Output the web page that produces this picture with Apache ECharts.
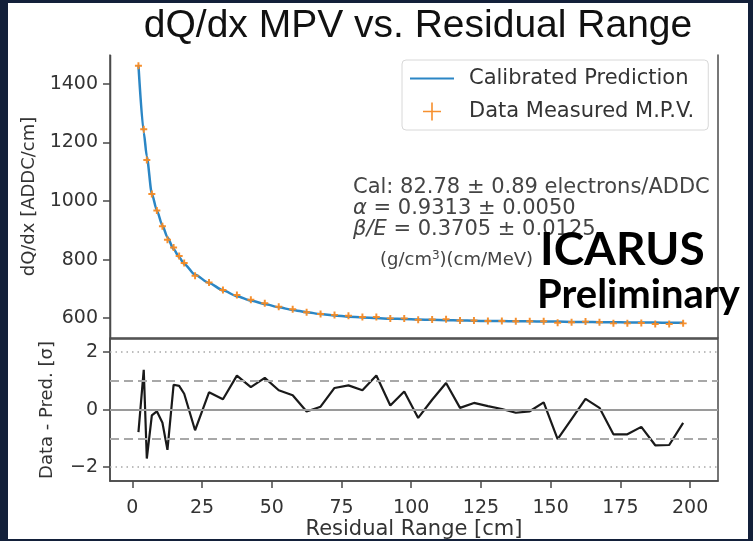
<!DOCTYPE html>
<html>
<head>
<meta charset="utf-8">
<script src="https://cdn.jsdelivr.net/npm/echarts@6/dist/echarts.min.js"></script>
<style>
  html, body { margin: 0; padding: 0; background: #ffffff; }
  #chart { width: 753px; height: 541px; }
</style>
</head>
<body>
<div id="chart"></div>
<script>
// Residual range bin centres [cm]
const residualRange = [2.2, 4.1, 5.2, 7, 8.8, 10.8, 12.6, 14.8, 16.8, 18.6,
  22.5, 27.5, 32.5, 37.5, 42.5, 47.5, 52.5, 57.5, 62.5, 67.5, 72.5, 77.5, 82.5, 87.5,
  92.5, 97.5, 102.5, 107.5, 112.5, 117.5, 122.5, 127.5, 132.5, 137.5, 142.5, 147.5,
  152.5, 157.5, 162.5, 167.5, 172.5, 177.5, 182.5, 187.5, 192.5, 197.5];

// Calibrated prediction of the dQ/dx MPV [ADDC/cm]
const prediction = [1465, 1235, 1152, 1025, 968, 916, 876, 836, 808, 785,
  748, 720, 695, 675, 660, 648, 637, 628, 620, 614, 609, 605, 602, 600,
  598, 597, 595, 594, 593, 592, 591, 590, 590, 589, 589, 588,
  588, 587, 587, 586, 586, 585, 585, 585, 584, 584];

// Measured MPV in each bin [ADDC/cm]
const measured = [1462, 1245, 1140, 1024, 968, 914, 868, 841, 812, 788,
  745, 722, 696, 679, 663, 651, 639, 630, 620, 614, 611, 608, 604, 604,
  599, 599, 594, 595, 596, 592, 592, 590, 590, 589, 589, 589,
  584, 586, 588, 586, 582, 582, 583, 580, 580, 582];

// (Data - Prediction) / sigma
const pull = [-0.78, 1.38, -1.7, -0.2, -0.06, -0.46, -1.4, 0.86, 0.82, 0.55,
  -0.72, 0.6, 0.36, 1.18, 0.78, 1.1, 0.67, 0.5, -0.07, 0.1, 0.75, 0.84, 0.67, 1.18,
  0.14, 0.63, -0.29, 0.34, 0.92, 0.06, 0.23, 0.12, 0.02, -0.11, -0.06, 0.25,
  -1.03, -0.33, 0.37, 0.06, -0.86, -0.86, -0.6, -1.24, -1.23, -0.46];

// Tick labels
const xTicks = [0, 25, 50, 75, 100, 125, 150, 175, 200];
const yTicksTop = [600, 800, 1000, 1200, 1400];
const yTicksBottom = [-2, 0, 2];

// Axis ranges
const xRange = [-8, 210];
const yRangeTop = [532, 1499];
const yRangeBottom = [-2.48, 2.45];

const zip = (a, b) => a.map((v, i) => [v, b[i]]);
const plain = v => (v < 0 ? '\u2212' + Math.abs(v) : String(v));

const axisColor = '#4a4a4a';
const textColor = '#333333';
const tickFont = 'DejaVu Sans';

const legendPlus = 'path://M4.55,0 L5.45,0 L5.45,4.55 L10,4.55 L10,5.45 L5.45,5.45 L5.45,10 L4.55,10 L4.55,5.45 L0,5.45 L0,4.55 L4.55,4.55 Z';
const markerPlus = 'path://M3.6,0 L6.4,0 L6.4,3.6 L10,3.6 L10,6.4 L6.4,6.4 L6.4,10 L3.6,10 L3.6,6.4 L0,6.4 L0,3.6 L3.6,3.6 Z';
const lineIcon = 'path://M0,0 L40,0 L40,2 L0,2 Z';

const chart = echarts.init(document.getElementById('chart'), null, { renderer: 'canvas' });

const spine = () => ({ show: true, onZero: false, lineStyle: { color: axisColor, width: 1.5 } });
const tickStyle = () => ({ color: axisColor, width: 1.5 });

const option = {
  backgroundColor: '#ffffff',
  animation: false,
  title: {
    text: 'dQ/dx MPV vs. Residual Range',
    left: 413, top: 2, textAlign: 'center',
    textStyle: { fontFamily: 'Liberation Sans', fontWeight: 'normal', fontSize: 39, color: '#111' }
  },
  legend: {
    orient: 'vertical',
    left: 402, top: 60,
    padding: [8, 14, 8, 8],
    itemGap: 12,
    itemWidth: 44, itemHeight: 18,
    borderColor: '#d8d8d8', borderWidth: 1, borderRadius: 4,
    backgroundColor: '#ffffff',
    textStyle: { fontFamily: tickFont, fontSize: 21, color: textColor, padding: [0, 0, 0, 10] },
    data: [
      { name: 'Calibrated Prediction', icon: lineIcon },
      { name: 'Data Measured M.P.V.', icon: legendPlus }
    ]
  },
  grid: [
    { left: 110, right: 35, top: 55, height: 283 },
    { left: 110, right: 35, top: 339, height: 143, show: true, borderColor: axisColor, borderWidth: 1.5, backgroundColor: 'transparent' }
  ],
  xAxis: [
    {
      gridIndex: 0, type: 'value', min: xRange[0], max: xRange[1], position: 'bottom',
      axisLine: spine(),
      axisTick: { show: false }, axisLabel: { show: false }, splitLine: { show: false }
    },
    {
      gridIndex: 1, type: 'value', min: xRange[0], max: xRange[1], position: 'bottom',
      axisLine: spine(),
      axisTick: { show: true, customValues: xTicks, length: 7, lineStyle: tickStyle() },
      axisLabel: { customValues: xTicks, fontFamily: tickFont, fontSize: 19, color: textColor, margin: 18 },
      splitLine: { show: false },
      name: 'Residual Range [cm]', nameLocation: 'middle', nameGap: 38,
      nameTextStyle: { fontFamily: tickFont, fontSize: 21, color: textColor }
    }
  ],
  yAxis: [
    {
      gridIndex: 0, type: 'value', min: yRangeTop[0], max: yRangeTop[1], position: 'left',
      axisLine: spine(),
      axisTick: { show: true, customValues: yTicksTop, length: 7, lineStyle: tickStyle() },
      axisLabel: { customValues: yTicksTop, formatter: plain, fontFamily: tickFont, fontSize: 19, color: textColor, margin: 12 },
      splitLine: { show: false },
      name: 'dQ/dx [ADDC/cm]', nameLocation: 'middle', nameGap: 72, nameRotate: 90,
      nameTextStyle: { fontFamily: tickFont, fontSize: 18, color: textColor }
    },
    {
      gridIndex: 0, type: 'value', min: yRangeTop[0], max: yRangeTop[1], position: 'right',
      axisLine: spine(),
      axisTick: { show: false }, axisLabel: { show: false }, splitLine: { show: false }
    },
    {
      gridIndex: 1, type: 'value', min: yRangeBottom[0], max: yRangeBottom[1], position: 'left',
      axisLine: spine(),
      axisTick: { show: true, customValues: yTicksBottom, length: 7, lineStyle: tickStyle() },
      axisLabel: { customValues: yTicksBottom, formatter: plain, fontFamily: tickFont, fontSize: 19, color: textColor, margin: 12 },
      splitLine: { show: false },
      name: 'Data - Pred. [\u03c3]', nameLocation: 'middle', nameGap: 54, nameRotate: 90,
      nameTextStyle: { fontFamily: tickFont, fontSize: 18, color: textColor }
    }
  ],
  series: [
    {
      name: 'Calibrated Prediction', type: 'line',
      xAxisIndex: 0, yAxisIndex: 0,
      data: zip(residualRange, prediction),
      smooth: 0.25, smoothMonotone: 'x', symbol: 'none', z: 2,
      lineStyle: { color: '#2b86c5', width: 2.5 },
      itemStyle: { color: '#2b86c5' }
    },
    {
      name: 'Data Measured M.P.V.', type: 'scatter',
      xAxisIndex: 0, yAxisIndex: 0,
      data: zip(residualRange, measured),
      symbol: markerPlus, symbolSize: 7, z: 3,
      itemStyle: { color: '#f58a24', opacity: 0.95 }
    },
    {
      // reference bands at 0, ±1 and ±2 sigma
      type: 'line', xAxisIndex: 1, yAxisIndex: 2,
      data: [], silent: true, z: 1,
      markLine: {
        silent: true, symbol: 'none', label: { show: false }, animation: false,
        data: [
          { yAxis: 0, lineStyle: { type: 'solid', color: '#9a9a9a', width: 2 } },
          { yAxis: 1, lineStyle: { type: [9, 5], color: '#a8a8a8', width: 2 } },
          { yAxis: -1, lineStyle: { type: [9, 5], color: '#a8a8a8', width: 2 } },
          { yAxis: 2, lineStyle: { type: [1.5, 4], color: '#a8a8a8', width: 1.6 } },
          { yAxis: -2, lineStyle: { type: [1.5, 4], color: '#a8a8a8', width: 1.6 } }
        ]
      }
    },
    {
      type: 'line', xAxisIndex: 1, yAxisIndex: 2,
      data: zip(residualRange, pull),
      symbol: 'none', z: 3,
      lineStyle: { color: '#1a1a1a', width: 2.2 }
    }
  ],
  graphic: [
    // left spine of the upper panel
    { type: 'line', z: 15, shape: { x1: 110.5, y1: 55, x2: 110.5, y2: 339 }, style: { stroke: axisColor, lineWidth: 1.5 } },
    {
      type: 'text', left: 353, top: 177, z: 10,
      style: { text: 'Cal: 82.78 \u00b1 0.89 electrons/ADDC', fontFamily: tickFont, fontSize: 21, fill: '#444' }
    },
    {
      type: 'text', left: 353, top: 198, z: 10,
      style: {
        text: '{i|\u03b1} = 0.9313 \u00b1 0.0050', fontFamily: tickFont, fontSize: 21, fill: '#444',
        rich: { i: { fontStyle: 'italic', fontFamily: tickFont, fontSize: 21, fill: '#444' } }
      }
    },
    {
      type: 'text', left: 353, top: 219, z: 10,
      style: {
        text: '{i|\u03b2/E} = 0.3705 \u00b1 0.0125', fontFamily: tickFont, fontSize: 21, fill: '#444',
        rich: { i: { fontStyle: 'italic', fontFamily: tickFont, fontSize: 21, fill: '#444' } }
      }
    },
    {
      type: 'text', left: 380, top: 250, z: 10,
      style: {
        text: '(g/cm{s|3})(cm/MeV)', fontFamily: tickFont, fontSize: 18, fill: '#444',
        rich: { s: { fontFamily: tickFont, fontSize: 12, fill: '#444', verticalAlign: 'top', padding: [0, 0, 8, 0] } }
      }
    },
    {
      type: 'text', left: 540, top: 227, z: 10,
      style: { text: 'ICARUS', fontFamily: 'Lato', fontWeight: 'bold', fontSize: 46, fill: '#000' }
    },
    {
      type: 'text', left: 537, top: 275, z: 10,
      style: { text: 'Preliminary', fontFamily: 'Lato', fontWeight: 'bold', fontSize: 40, fill: '#000' }
    },
    // dark frame around the slide
    { type: 'rect', left: 0, top: 0, shape: { width: 8, height: 541 }, style: { fill: '#13203a' }, z: 20 },
    { type: 'rect', left: 0, top: 0, shape: { width: 753, height: 3 }, style: { fill: '#13203a' }, z: 20 },
    { type: 'rect', left: 748, top: 0, shape: { width: 5, height: 541 }, style: { fill: '#13203a' }, z: 20 },
    { type: 'rect', left: 0, top: 539, shape: { width: 753, height: 2 }, style: { fill: '#13203a' }, z: 20 }
  ]
};

chart.setOption(option);
</script>
</body>
</html>
